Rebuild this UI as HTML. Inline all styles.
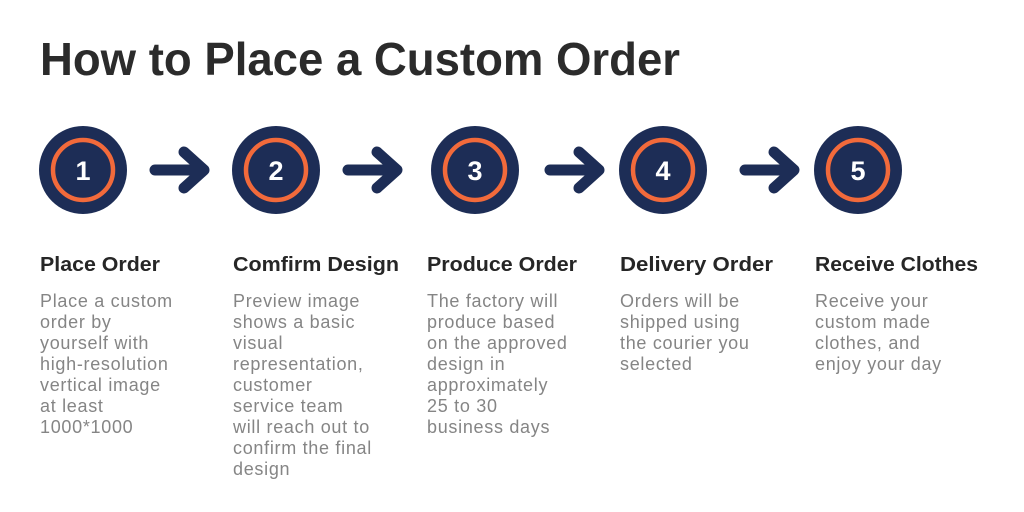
<!DOCTYPE html>
<html><head><meta charset="utf-8"><style>
html,body{margin:0;padding:0;background:#fff;}
svg{display:block;}
.h{font-family:"Liberation Sans",sans-serif;font-weight:bold;font-size:20px;fill:#262626;}
.b{font-family:"Liberation Sans",sans-serif;font-size:18px;fill:#858585;letter-spacing:0.7px;}
.n{font-family:"Liberation Sans",sans-serif;font-weight:bold;font-size:27px;fill:#fff;}
</style></head><body>
<svg width="1024" height="512" viewBox="0 0 1024 512" xmlns="http://www.w3.org/2000/svg">
<text x="40" y="75" font-family="Liberation Sans, sans-serif" font-weight="bold" font-size="46" fill="#2b2b2b" textLength="640" lengthAdjust="spacingAndGlyphs">How to Place a Custom Order</text>
<g>
<circle cx="83" cy="170" r="44" fill="#1d2d56"/><circle cx="83" cy="170" r="30" fill="none" stroke="#f26a3b" stroke-width="4.5"/><text class="n" x="83" y="180" text-anchor="middle">1</text>
<circle cx="276" cy="170" r="44" fill="#1d2d56"/><circle cx="276" cy="170" r="30" fill="none" stroke="#f26a3b" stroke-width="4.5"/><text class="n" x="276" y="180" text-anchor="middle">2</text>
<circle cx="475" cy="170" r="44" fill="#1d2d56"/><circle cx="475" cy="170" r="30" fill="none" stroke="#f26a3b" stroke-width="4.5"/><text class="n" x="475" y="180" text-anchor="middle">3</text>
<circle cx="663" cy="170" r="44" fill="#1d2d56"/><circle cx="663" cy="170" r="30" fill="none" stroke="#f26a3b" stroke-width="4.5"/><text class="n" x="663" y="180" text-anchor="middle">4</text>
<circle cx="858" cy="170" r="44" fill="#1d2d56"/><circle cx="858" cy="170" r="30" fill="none" stroke="#f26a3b" stroke-width="4.5"/><text class="n" x="858" y="180" text-anchor="middle">5</text>
</g>
<g fill="none" stroke="#1d2d56" stroke-width="11" stroke-linecap="round" stroke-linejoin="round">
<path d="M155 170 H203 M184 152 L204 170 L184 188"/>
<path d="M348 170 H396 M377 152 L397 170 L377 188"/>
<path d="M550 170 H598 M579 152 L599 170 L579 188"/>
<path d="M745 170 H793 M774 152 L794 170 L774 188"/>
</g>
<text class="h" x="40" y="271" textLength="120" lengthAdjust="spacingAndGlyphs">Place Order</text>
<text class="h" x="233" y="271" textLength="166" lengthAdjust="spacingAndGlyphs">Comfirm Design</text>
<text class="h" x="427" y="271" textLength="150" lengthAdjust="spacingAndGlyphs">Produce Order</text>
<text class="h" x="620" y="271" textLength="153" lengthAdjust="spacingAndGlyphs">Delivery Order</text>
<text class="h" x="815" y="271" textLength="163" lengthAdjust="spacingAndGlyphs">Receive Clothes</text>
<text class="b">
<tspan x="40" y="307">Place a custom</tspan><tspan x="40" y="328">order by</tspan><tspan x="40" y="349">yourself with</tspan><tspan x="40" y="370">high-resolution</tspan><tspan x="40" y="391">vertical image</tspan><tspan x="40" y="412">at least</tspan><tspan x="40" y="433">1000*1000</tspan>
</text>
<text class="b">
<tspan x="233" y="307">Preview image</tspan><tspan x="233" y="328">shows a basic</tspan><tspan x="233" y="349">visual</tspan><tspan x="233" y="370">representation,</tspan><tspan x="233" y="391">customer</tspan><tspan x="233" y="412">service team</tspan><tspan x="233" y="433">will reach out to</tspan><tspan x="233" y="454">confirm the final</tspan><tspan x="233" y="475">design</tspan>
</text>
<text class="b">
<tspan x="427" y="307">The factory will</tspan><tspan x="427" y="328">produce based</tspan><tspan x="427" y="349">on the approved</tspan><tspan x="427" y="370">design in</tspan><tspan x="427" y="391">approximately</tspan><tspan x="427" y="412">25 to 30</tspan><tspan x="427" y="433">business days</tspan>
</text>
<text class="b">
<tspan x="620" y="307">Orders will be</tspan><tspan x="620" y="328">shipped using</tspan><tspan x="620" y="349">the courier you</tspan><tspan x="620" y="370">selected</tspan>
</text>
<text class="b">
<tspan x="815" y="307">Receive your</tspan><tspan x="815" y="328">custom made</tspan><tspan x="815" y="349">clothes, and</tspan><tspan x="815" y="370">enjoy your day</tspan>
</text>
</svg>
</body></html>
